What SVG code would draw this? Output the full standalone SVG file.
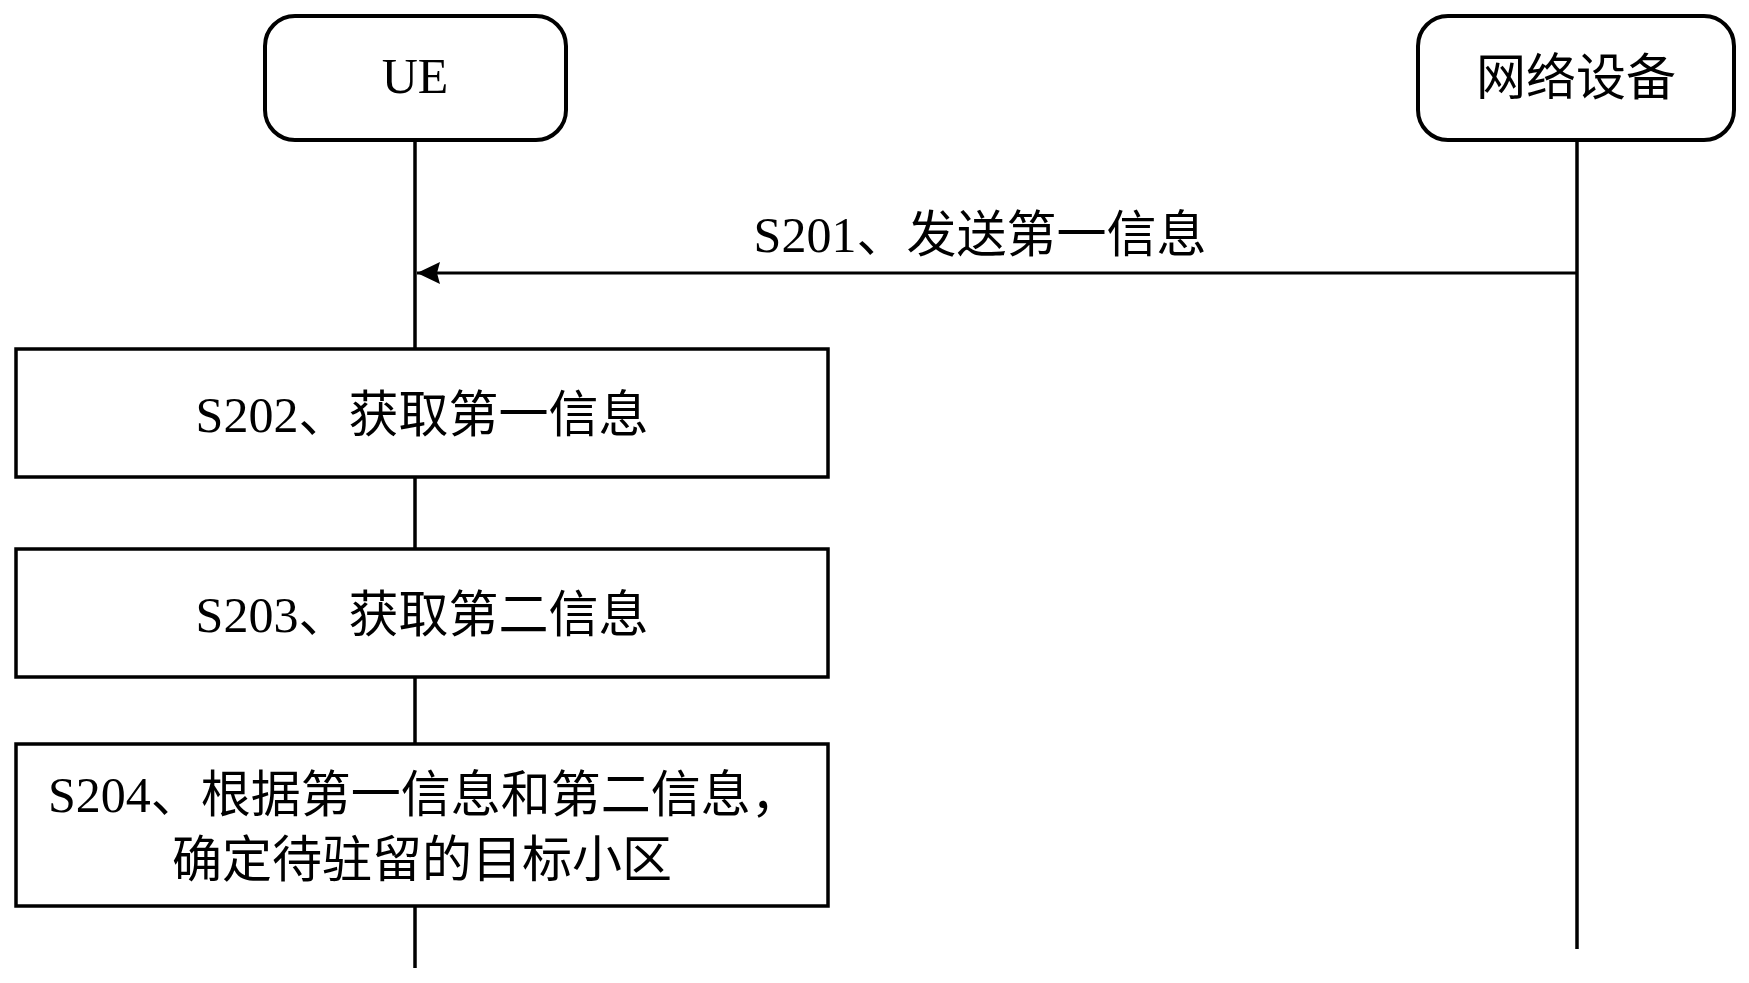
<svg xmlns="http://www.w3.org/2000/svg" width="1749" height="983" viewBox="0 0 1749 983">
<style>
.bg{fill:#ffffff}
.actor{fill:#ffffff;stroke:#000000;stroke-width:4}
.step{fill:#ffffff;stroke:#000000;stroke-width:3.5}
.life{stroke:#000000;stroke-width:3.5;fill:none}
.msg{stroke:#000000;stroke-width:3;fill:none}
.t{font-family:"Liberation Serif","Noto Sans CJK SC",serif;font-size:50px;fill:#000000}
.c{text-anchor:middle}
</style>
<defs>
<marker id="ah" markerWidth="24" markerHeight="24" refX="23" refY="12" orient="auto" markerUnits="userSpaceOnUse">
<path d="M23,12 L0,1 L3,12 L0,23 Z" fill="#000000"/>
</marker>
</defs>
<rect class="bg" x="0" y="0" width="1749" height="983"/>
<g id="connectors">
<line class="life" x1="415" y1="140" x2="415" y2="349"/>
<line class="life" x1="415" y1="477" x2="415" y2="549"/>
<line class="life" x1="415" y1="677" x2="415" y2="744"/>
<line class="life" x1="415" y1="906" x2="415" y2="968"/>
<line class="life" x1="1577" y1="140" x2="1577" y2="949"/>
<line class="msg" x1="1577" y1="273" x2="417" y2="273" marker-end="url(#ah)"/>
<text class="t c" x="980" y="252">S201、发送第一信息</text>
</g>
<g id="ue">
<rect class="actor" x="265" y="16" width="301" height="124" rx="30" ry="30"/>
<text class="t c" x="415" y="93">UE</text>
</g>
<g id="network">
<rect class="actor" x="1418" y="16" width="316" height="124" rx="30" ry="30"/>
<text class="t c" x="1576" y="95">网络设备</text>
</g>
<g id="s202">
<rect class="step" x="16" y="349" width="812" height="128"/>
<text class="t c" x="422" y="432">S202、获取第一信息</text>
</g>
<g id="s203">
<rect class="step" x="16" y="549" width="812" height="128"/>
<text class="t c" x="422" y="632">S203、获取第二信息</text>
</g>
<g id="s204">
<rect class="step" x="16" y="744" width="812" height="162"/>
<text class="t" x="48" y="812">S204、根据第一信息和第二信息，</text>
<text class="t" x="172" y="877">确定待驻留的目标小区</text>
</g>
</svg>
